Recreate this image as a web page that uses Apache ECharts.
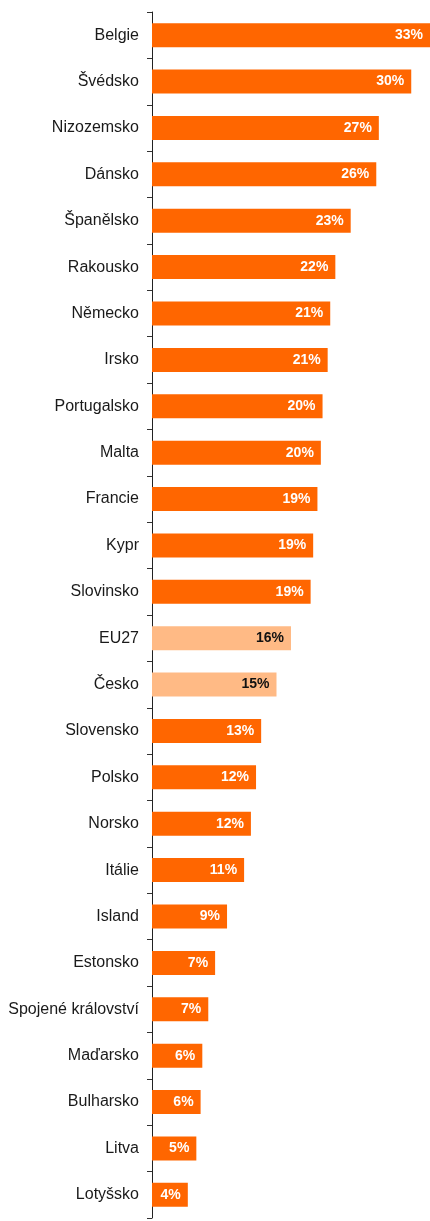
<!DOCTYPE html>
<html>
<head>
<meta charset="utf-8">
<script src="https://cdn.jsdelivr.net/npm/echarts@6/dist/echarts.min.js"></script>
<style>
  html, body { margin: 0; padding: 0; background: #fff; }
  #chart { width: 430px; height: 1221px; }
</style>
</head>
<body>
<div id="chart"></div>
<script>
// country names, top to bottom
const countries = [
  'Belgie', 'Švédsko', 'Nizozemsko', 'Dánsko', 'Španělsko', 'Rakousko',
  'Německo', 'Irsko', 'Portugalsko', 'Malta', 'Francie', 'Kypr',
  'Slovinsko', 'EU27', 'Česko', 'Slovensko', 'Polsko', 'Norsko',
  'Itálie', 'Island', 'Estonsko', 'Spojené království', 'Maďarsko',
  'Bulharsko', 'Litva', 'Lotyšsko'
];
// share in % (labels are rounded)
const shares = [
  32.6, 30.4, 26.6, 26.3, 23.3, 21.5,
  20.9, 20.6, 20.0, 19.8, 19.4, 18.9,
  18.6, 16.3, 14.6, 12.8, 12.2, 11.6,
  10.8, 8.8, 7.4, 6.6, 5.9,
  5.7, 5.2, 4.2
];
// highlighted rows drawn in light orange
const highlighted = ['EU27', 'Česko'];

const chart = echarts.init(document.getElementById('chart'));

chart.setOption({
  animation: false,
  grid: { left: 152, right: 0, top: 12, bottom: 3 },
  xAxis: {
    type: 'value',
    min: 0,
    max: Math.max(...shares),
    show: false
  },
  yAxis: {
    type: 'category',
    inverse: true,
    data: countries,
    axisLine: { lineStyle: { color: '#222', width: 1 } },
    axisTick: { show: true, length: 5, lineStyle: { color: '#333' } },
    axisLabel: {
      margin: 13,
      color: '#1a1a1a',
      fontFamily: 'Liberation Sans, Arial, sans-serif',
      fontSize: 16
    }
  },
  series: [{
    type: 'bar',
    barWidth: 24,
    data: shares.map((v, i) => {
      const hi = highlighted.includes(countries[i]);
      return {
        value: v,
        itemStyle: { color: hi ? '#FFBA85' : '#FF6600' },
        label: { color: hi ? '#111' : '#fff' }
      };
    }),
    label: {
      show: true,
      position: 'insideRight',
      distance: 7,
      fontFamily: 'Liberation Sans, Arial, sans-serif',
      fontSize: 14,
      fontWeight: 'bold',
      formatter: p => Math.round(p.value) + '%'
    }
  }]
});
</script>
</body>
</html>
